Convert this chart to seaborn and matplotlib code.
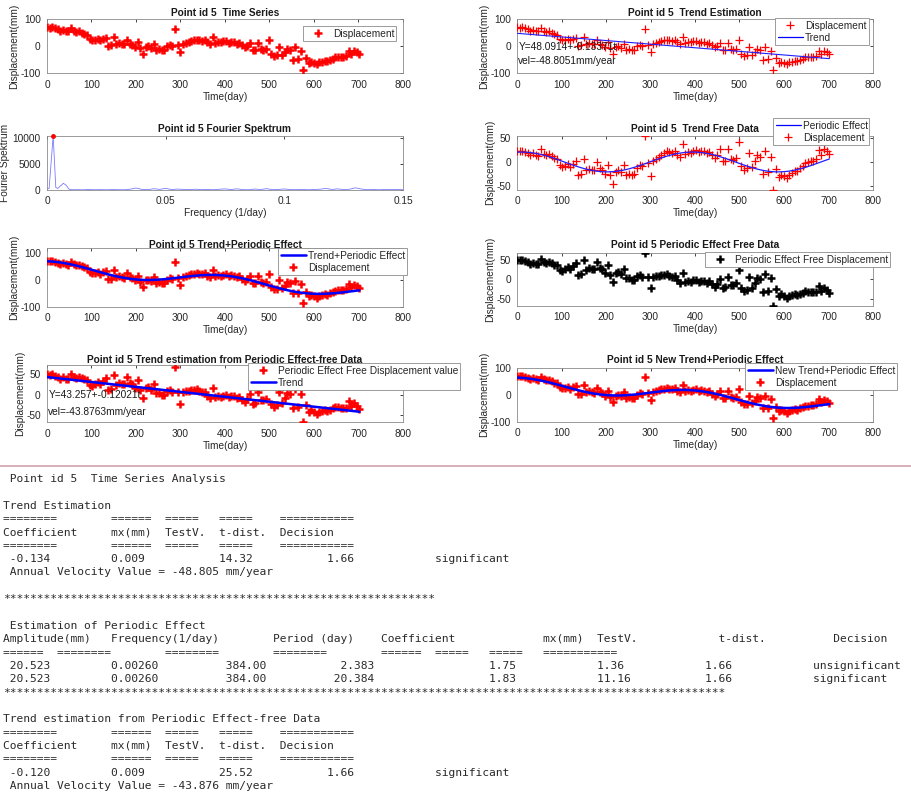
import numpy as np
import pandas as pd
import matplotlib
matplotlib.use("Agg")
import matplotlib.pyplot as plt
from matplotlib.lines import Line2D
import seaborn as sns

# ---------------- observations, point id 5 ----------------
days = [0, 6, 12, 18, 24, 30, 36, 42, 48, 54, 60, 66, 72, 78, 84, 90, 96, 102,
        108, 114, 120, 126, 132, 138, 144, 150, 156, 162, 168, 174, 180, 186,
        192, 198, 204, 210, 216, 222, 228, 234, 240, 246, 252, 258, 264, 270,
        276, 282, 288, 294, 300, 306, 312, 318, 324, 330, 336, 342, 348, 354,
        360, 366, 372, 378, 384, 390, 396, 402, 408, 414, 420, 426, 432, 438,
        444, 450, 456, 462, 468, 474, 480, 486, 492, 498, 504, 510, 516, 522,
        528, 534, 540, 546, 552, 558, 564, 570, 576, 582, 588, 594, 600, 606,
        612, 618, 624, 630, 636, 642, 648, 654, 660, 666, 672, 678, 684, 690,
        696, 702]
displacement = [70, 69, 70, 67, 63, 58, 61, 57, 55, 67, 57, 53, 55, 50, 45, 42,
                28, 24, 25, 28, 22, 27, 32, 2, 3, 35, 10, 12, 9, 8, 24, 10, 5,
                -3, 15, -8, -27, -3, 0, -5, 10, -12, -10, -14, -12, 0, 5, 2, 64,
                6, -21, 10, 13, 16, 20, 22, 25, 22, 21, 24, 15, 10, 36, 14, 17,
                15, 18, 20, 14, 16, 15, 10, 12, 3, -4, 2, 13, -12, -12, 12, -10,
                -12, -10, 22, -27, -36, -34, -3, -32, -22, -10, -14, -50, -4,
                -48, -17, -87, -45, -62, -58, -62, -66, -60, -57, -54, -55, -50,
                -46, -41, -40, -39, -38, -36, -17, -28, -18, -22, -29]

# fitted model parameters
trend_intercept = 48.0914
trend_slope = -0.13371
amplitude = 20.523
frequency = 0.00260
phase_day = 10.0
pf_trend_intercept = 43.257
pf_trend_slope = -0.12021

# Fourier spectrum of the trend-free series
spec_freq = [0.0, 0.0009, 0.0026, 0.0037, 0.0045, 0.0057, 0.0069, 0.0081, 0.0093,
             0.0105, 0.0125, 0.015, 0.0175, 0.02, 0.0225, 0.025, 0.0275, 0.03,
             0.0325, 0.035, 0.0375, 0.04, 0.0425, 0.045, 0.0475, 0.05, 0.0525,
             0.055, 0.0575, 0.06, 0.0625, 0.065, 0.0675, 0.07, 0.0725, 0.075,
             0.0775, 0.08, 0.0825, 0.085, 0.0875, 0.09, 0.0925, 0.095, 0.0975,
             0.1, 0.1025, 0.105, 0.1075, 0.11, 0.1125, 0.115, 0.1175, 0.12,
             0.1225, 0.125, 0.1275, 0.13, 0.1325, 0.135, 0.1375, 0.14, 0.1425,
             0.145, 0.1475, 0.15]
spec_power = [200, 300, 10500, 500, 300, 800, 1300, 900, 150, 60, 60, 40, 90,
              50, 70, 40, 80, 60, 40, 150, 380, 120, 60, 250, 120, 320, 90, 180,
              110, 70, 160, 60, 100, 50, 140, 220, 90, 230, 70, 50, 180, 90, 260,
              60, 110, 200, 80, 60, 120, 50, 90, 150, 300, 110, 220, 70, 150,
              420, 180, 60, 90, 50, 110, 70, 90, 60]

# analysis report
eq_row = "========        ======  =====   =====    ==========="
head_row = "Coefficient     mx(mm)  TestV.  t-dist.  Decision"
report_lines = [
    " Point id 5  Time Series Analysis",
    "",
    "Trend Estimation",
    eq_row,
    head_row,
    eq_row,
    " -0.134         0.009           14.32           1.66            significant",
    " Annual Velocity Value = -48.805 mm/year",
    "",
    "*" * 64,
    "",
    " Estimation of Periodic Effect",
    "Amplitude(mm)   Frequency(1/day)        Period (day)    Coefficient             "
    "mx(mm)  TestV.            t-dist.          Decision",
    "======  ========        ========        ========        ======  =====   =====   ===========",
    " 20.523         0.00260          384.00           2.383                 "
    "1.75            1.36            1.66            unsignificant",
    " 20.523         0.00260          384.00          20.384                 "
    "1.83            11.16           1.66            significant",
    "*" * 107,
    "",
    "Trend estimation from Periodic Effect-free Data",
    eq_row,
    head_row,
    eq_row,
    " -0.120         0.009           25.52           1.66            significant",
    " Annual Velocity Value = -43.876 mm/year",
]

# ---------------- derived series ----------------
t = np.asarray(days, dtype=float)
d = np.asarray(displacement, dtype=float)
df = pd.DataFrame({"day": t, "disp": d})
df["trend"] = trend_intercept + trend_slope * df["day"]
df["periodic"] = amplitude * np.cos(2 * np.pi * frequency * (df["day"] - phase_day))
df["trend_free"] = df["disp"] - df["trend"]
df["pfree"] = df["disp"] - df["periodic"]
df["pf_trend"] = pf_trend_intercept + pf_trend_slope * df["day"]
df["trend_per"] = df["trend"] + df["periodic"]
df["new_trend_per"] = df["pf_trend"] + df["periodic"]
spec = pd.DataFrame({"f": spec_freq, "p": spec_power})

# ---------------- styling ----------------
sns.set_theme(style="white")
plt.rcParams["font.family"] = ["Liberation Sans", "DejaVu Sans"]
plt.rcParams["axes.unicode_minus"] = False
FS = 7.3
TXT = "#262626"
W, H = 912, 796
fig = plt.figure(figsize=(W / 100, H / 100), dpi=100)
fig.patch.set_facecolor("white")


def make_ax(x0, y0, x1, y1):
    ax = fig.add_axes([x0 / W, 1 - y1 / H, (x1 - x0) / W, (y1 - y0) / H])
    ax.set_facecolor("white")
    ax.tick_params(direction="in", length=2.5, width=0.6, top=True, right=True,
                   labelsize=FS, colors=TXT, pad=4.5)
    for s in ax.spines.values():
        s.set_color("#8a8a8a")
        s.set_linewidth(0.6)
    return ax


def time_axis(ax, ylim, yticks):
    ax.set_xlim(0, 800)
    ax.set_xticks(range(0, 801, 100))
    ax.set_ylim(*ylim)
    ax.set_yticks(yticks)
    ax.set_xlabel("Time(day)", fontsize=FS, color=TXT, labelpad=1.5)
    ax.set_ylabel("Displacement(mm)", fontsize=FS, color=TXT, labelpad=1)


def title(ax, text, yc):
    bb = ax.get_position()
    fig.text(bb.x0 + bb.width / 2, 1 - yc / H, text, ha="center", va="center",
             fontsize=FS, fontweight="bold", color="#1a1a1a")


def legend(ax, handles, labels, x0, y0, w):
    leg = ax.legend(handles, labels, loc="upper left",
                    bbox_to_anchor=(x0 / W, 1 - y0 / H, w / W, 0),
                    bbox_transform=fig.transFigure, mode="expand",
                    borderaxespad=0, frameon=True, fancybox=False, fontsize=FS,
                    handlelength=2.5, handletextpad=0.2, borderpad=0.25,
                    labelspacing=0.2, numpoints=1)
    fr = leg.get_frame()
    fr.set_edgecolor("#8c8c8c")
    fr.set_linewidth(0.6)
    fr.set_alpha(1)
    for tx in leg.get_texts():
        tx.set_color(TXT)
    return leg


def plus(ax, y, color="red", lw=1.8):
    sns.scatterplot(data=df, x="day", y=y, marker="+", color=color, s=34,
                    linewidth=lw, ax=ax, legend=False, zorder=3)


def plus_handle(color="red", lw=1.8):
    return Line2D([], [], marker="+", color=color, linestyle="none",
                  markersize=5.8, markeredgewidth=lw)


def line_handle(lw):
    return Line2D([], [], color="#0000ff", lw=lw)


# 1) time series
ax1 = make_ax(47, 19.3, 403, 73.3)
plus(ax1, "disp")
time_axis(ax1, (-100, 100), [-100, 0, 100])
title(ax1, "Point id 5  Time Series", 12.5)
legend(ax1, [plus_handle()], ["Displacement"], 303, 26, 93)

# 2) trend estimation
ax2 = make_ax(517, 19.3, 873, 73.3)
plus(ax2, "disp", lw=0.9)
sns.lineplot(data=df, x="day", y="trend", color="#2020ff", lw=0.8, ax=ax2, zorder=4)
time_axis(ax2, (-100, 100), [-100, 0, 100])
ax2.text(3, -4, "Y=48.0914+-0.13371t", fontsize=FS, color="#1a1a1a", va="center", zorder=5)
ax2.text(3, -53, "vel=-48.8051mm/year", fontsize=FS, color="#1a1a1a", va="center", zorder=5)
title(ax2, "Point id 5  Trend Estimation", 12.5)
legend(ax2, [plus_handle(lw=0.9), line_handle(0.9)], ["Displacement", "Trend"], 775, 18, 94)

# 3) Fourier spectrum
ax3 = make_ax(47, 135.7, 403, 190)
sns.lineplot(data=spec, x="f", y="p", color="#7a7aff", lw=0.6, ax=ax3)
pk = spec.loc[spec["p"].idxmax()]
ax3.plot([pk["f"]], [pk["p"]], "o", color="red", markersize=2.5, zorder=5, clip_on=False)
ax3.set_xlim(0, 0.15)
ax3.set_xticks([0, 0.05, 0.1, 0.15])
ax3.set_xticklabels(["0", "0.05", "0.1", "0.15"])
ax3.set_ylim(0, 10500)
ax3.set_yticks([0, 5000, 10000])
ax3.set_xlabel("Frequency (1/day)", fontsize=FS, color=TXT, labelpad=1.5)
ax3.set_ylabel("Fourier Spektrum", fontsize=FS, color=TXT, labelpad=2)
title(ax3, "Point id 5 Fourier Spektrum", 128.5)

# 4) trend-free data
ax4 = make_ax(517, 135.7, 873, 190)
plus(ax4, "trend_free", lw=0.9)
sns.lineplot(data=df, x="day", y="periodic", color="#2020ff", lw=0.9, ax=ax4, zorder=4)
time_axis(ax4, (df["trend_free"].min(), df["trend_free"].max()), [-50, 0, 50])
title(ax4, "Point id 5  Trend Free Data", 129)
legend(ax4, [line_handle(0.9), plus_handle(lw=0.9)], ["Periodic Effect", "Displacement"], 773, 118, 96)

# 5) trend + periodic effect
ax5 = make_ax(47, 248.3, 403, 306.7)
plus(ax5, "disp")
sns.lineplot(data=df, x="day", y="trend_per", color="#0000ff", lw=1.8, ax=ax5, zorder=4)
time_axis(ax5, (-100, 116), [-100, 0, 100])
title(ax5, "Point id 5 Trend+Periodic Effect", 244.5)
legend(ax5, [line_handle(1.8), plus_handle()], ["Trend+Periodic Effect", "Displacement"], 278, 248, 129)

# 6) periodic-effect-free data
ax6 = make_ax(517, 252.7, 873, 306)
plus(ax6, "pfree", color="black")
time_axis(ax6, (df["pfree"].min(), df["pfree"].max()), [-50, 0, 50])
title(ax6, "Point id 5 Periodic Effect Free Data", 245)
legend(ax6, [plus_handle("black")], ["Periodic Effect Free Displacement"], 705, 252, 185)

# 7) trend from periodic-effect-free data
ax7 = make_ax(47, 365, 403, 422.3)
plus(ax7, "pfree")
sns.lineplot(data=df, x="day", y="pf_trend", color="#0000ff", lw=1.8, ax=ax7, zorder=4)
time_axis(ax7, (df["pfree"].min(), df["pfree"].max() + 5), [-50, 0, 50])
ax7.text(3, 0, "Y=43.257+-0.12021t", fontsize=FS, color="#1a1a1a", va="center", zorder=5)
ax7.text(3, -42, "vel=-43.8763mm/year", fontsize=FS, color="#1a1a1a", va="center", zorder=5)
title(ax7, "Point id 5 Trend estimation from Periodic Effect-free Data", 360)
legend(ax7, [plus_handle(), line_handle(1.8)],
       ["Periodic Effect Free Displacement value", "Trend"], 248, 363, 212)

# 8) new trend + periodic effect
ax8 = make_ax(517, 367.7, 873, 421.7)
plus(ax8, "disp")
sns.lineplot(data=df, x="day", y="new_trend_per", color="#0000ff", lw=1.8, ax=ax8, zorder=4)
time_axis(ax8, (-100, 100), [-100, 0, 100])
title(ax8, "Point id 5 New Trend+Periodic Effect", 360)
legend(ax8, [line_handle(1.8), plus_handle()], ["New Trend+Periodic Effect", "Displacement"], 745, 363, 152)

# separator between the charts and the report
fig.add_artist(Line2D([0, 1], [1 - 466 / H, 1 - 466 / H], transform=fig.transFigure,
                      color="#d8b0b8", lw=1.4))

# report text, monospaced
mono_size = 6.8 / 0.602 * 72 / 100
for i, line in enumerate(report_lines):
    if not line:
        continue
    y = 479 + i * 13.35
    fig.text(3 / W, 1 - y / H, line, family="DejaVu Sans Mono", fontsize=mono_size,
             color="#2a2a2a", ha="left", va="center")

fig.savefig("out.png", dpi=100, facecolor="white")
